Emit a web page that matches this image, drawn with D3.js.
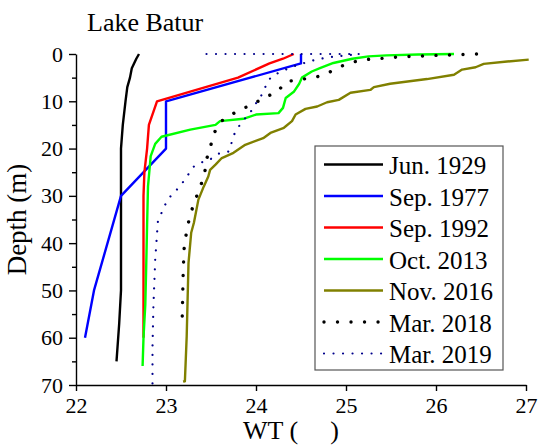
<!DOCTYPE html>
<html>
<head>
<meta charset="utf-8">
<script src="https://cdn.jsdelivr.net/npm/d3@7"></script>
<style>
  body { margin: 0; background: #fff; }
  svg { font-family: "Liberation Serif", "Times New Roman", serif; }
</style>
</head>
<body>
<svg id="chart" width="541" height="445"></svg>
<script>
// Water temperature profiles, [depth (m), WT]
let jun1929 = [[0, 22.70], [1, 22.67], [3, 22.62], [5, 22.60], [7, 22.57], [10, 22.55], [15, 22.52], [20, 22.50],
  [30, 22.50], [40, 22.50], [50, 22.50], [57, 22.48], [65, 22.45]];
let sep1977 = [[0, 24.5], [2, 24.5], [10, 23.0], [20, 23.0], [30, 22.5], [50, 22.2], [60, 22.1]];
let sep1992 = [[0, 24.42], [1, 24.3], [2, 24.15], [5, 23.8], [10, 22.9], [15, 22.81], [20, 22.79], [25, 22.76],
  [30, 22.75], [40, 22.75], [50, 22.75], [60, 22.75]];
let oct2013 = [[0, 26.2], [0.1, 25.8], [0.3, 25.45], [0.5, 25.25], [1, 25.07], [1.9, 24.86], [3, 24.71], [3.7, 24.62],
  [5, 24.51], [6.3, 24.48], [8, 24.42], [9.3, 24.33], [11.4, 24.3], [12.5, 24.25], [12.8, 24.0], [13.7, 23.86],
  [14.2, 23.6], [15, 23.55], [16, 23.27], [17.5, 22.95], [19, 22.88], [21.6, 22.83], [28, 22.8], [36, 22.79],
  [45, 22.78], [53, 22.77], [60, 22.75], [66, 22.74]];
let nov2016 = [[1.2, 27.03], [1.6, 26.79], [2.1, 26.53], [2.8, 26.44], [3.3, 26.29], [4.4, 26.2], [5.3, 25.9],
  [6.3, 25.49], [7.0, 25.31], [7.6, 25.27], [8.2, 25.05], [9.7, 24.92], [10.2, 24.79], [11.1, 24.68], [11.6, 24.55],
  [12.8, 24.44], [14.2, 24.4], [15.6, 24.31], [16.7, 24.16], [17.8, 24.08], [19.2, 23.88], [20.9, 23.75], [22, 23.62],
  [23.4, 23.55], [24.5, 23.49], [25.9, 23.47], [28, 23.42], [30.8, 23.36], [35.7, 23.31], [37.8, 23.28],
  [44.2, 23.25], [59.7, 23.23], [69.2, 23.21], [69.3, 23.19]];
let mar2018 = [[0, 26.45], [0.3, 26.0], [0.6, 25.6], [1.0, 25.35], [1.2, 25.19], [1.9, 25.04], [2.8, 24.92],
  [4.2, 24.78], [5.1, 24.63], [5.4, 24.47], [5.9, 24.33], [8.2, 24.23], [9.2, 24.08], [10.7, 23.97], [11.6, 23.84],
  [13, 23.71], [14.4, 23.6], [16.9, 23.53], [19.9, 23.49], [22.3, 23.45], [25.2, 23.43], [27.6, 23.39],
  [30.1, 23.34], [32.8, 23.29], [35.6, 23.25], [38.6, 23.22], [41.4, 23.2], [47, 23.19], [56, 23.18]];
let mar2019 = [[0, 23.45], [0, 25.15], [0.3, 25.0], [0.7, 24.8], [1.4, 24.62], [2, 24.52], [2.6, 24.42], [3.3, 24.33],
  [4.6, 24.18], [6.1, 24.12], [8.2, 24.08], [10, 24.01], [11.4, 23.98], [12.6, 23.92], [14.6, 23.84], [16, 23.78],
  [17.4, 23.75], [20.6, 23.7], [21.1, 23.58], [22.3, 23.49], [22.9, 23.4], [23.9, 23.3], [26.6, 23.21],
  [28.7, 23.12], [30.1, 23.05], [31.9, 22.99], [33.6, 22.95], [35.4, 22.91], [43.5, 22.88], [53.4, 22.86],
  [62, 22.85], [70, 22.85]];

let seriesLabels = ['Jun. 1929', 'Sep. 1977', 'Sep. 1992', 'Oct. 2013', 'Nov. 2016', 'Mar. 2018', 'Mar. 2019'];
let depthTicks = [0, 10, 20, 30, 40, 50, 60, 70];
let depthMinorTicks = [5, 15, 25, 35, 45, 55, 65];
let wtTicks = [22, 23, 24, 25, 26, 27];

// line styles per series
let styles = [
  {color: '#000000', width: 2.4, dash: null},
  {color: '#0000ff', width: 2.4, dash: null},
  {color: '#ff0000', width: 2.4, dash: null},
  {color: '#00ff00', width: 2.4, dash: null},
  {color: '#808000', width: 2.4, dash: null},
  {color: '#000000', width: 3.4, dash: '0.01 13.5'},
  {color: '#00008b', width: 2.2, dash: '0.01 9.5'}
];

let profiles = [jun1929, sep1977, sep1992, oct2013, nov2016, mar2018, mar2019];

let svg = d3.select('#chart');

let x = d3.scaleLinear().domain([22, 27]).range([76, 526]);
let y = d3.scaleLinear().domain([0, 70]).range([54, 385]);

let line = d3.line()
  .x((d) => x(d[1]))
  .y((d) => y(d[0]));

// Profiles
svg.append('g')
  .selectAll('path')
  .data(profiles)
  .enter().append('path')
  .attr('d', line)
  .attr('fill', 'none')
  .attr('stroke', (d, i) => styles[i].color)
  .attr('stroke-width', (d, i) => styles[i].width)
  .attr('stroke-dasharray', (d, i) => styles[i].dash)
  .attr('stroke-linecap', (d, i) => styles[i].dash ? 'round' : 'butt')
  .attr('stroke-linejoin', 'round');

// Left axis (depth), with minor ticks
svg.append('g')
  .attr('transform', 'translate(' + x(22) + ',0)')
  .call(d3.axisLeft(y).tickValues(depthTicks).tickSize(7).tickSizeOuter(0).tickPadding(6).tickFormat(d3.format('d')));
svg.append('g')
  .attr('transform', 'translate(' + x(22) + ',0)')
  .call(d3.axisLeft(y).tickValues(depthMinorTicks).tickSize(4).tickSizeOuter(0).tickFormat(''))
  .select('.domain').remove();

// Bottom axis (WT)
svg.append('g')
  .attr('transform', 'translate(0,' + y(70) + ')')
  .call(d3.axisBottom(x).tickValues(wtTicks).tickSize(6).tickSizeOuter(0).tickPadding(6).tickFormat(d3.format('d')));

svg.selectAll('.domain, .tick line')
  .attr('stroke', '#000')
  .attr('stroke-width', 1.4);
svg.selectAll('.tick text')
  .attr('font-family', '"Liberation Serif", "Times New Roman", serif')
  .attr('font-size', 22)
  .attr('fill', '#000');

// Title and axis labels
svg.append('text')
  .attr('x', 87)
  .attr('y', 31)
  .attr('font-size', 26)
  .text('Lake Batur');

svg.append('text')
  .attr('transform', 'translate(26,' + ((y(0) + y(70)) / 2) + ') rotate(-90)')
  .attr('text-anchor', 'middle')
  .attr('font-size', 27)
  .text('Depth (m)');

let xLabel = svg.append('text')
  .attr('x', 243)
  .attr('y', 439)
  .attr('font-size', 26);
xLabel.append('tspan').text('WT (');
xLabel.append('tspan').attr('dx', 32).text(')');

// Legend
let legend = svg.append('g');
legend.append('rect')
  .attr('x', 315)
  .attr('y', 146)
  .attr('width', 188)
  .attr('height', 224)
  .attr('fill', '#fff')
  .attr('stroke', '#555')
  .attr('stroke-width', 1.2);

let rows = legend.selectAll('.legend')
  .data(seriesLabels)
  .enter().append('g')
  .attr('class', 'legend')
  .attr('transform', (d, i) => 'translate(0,' + (164.5 + i * 31.5) + ')');

rows.append('line')
  .attr('x1', 324)
  .attr('x2', 383)
  .attr('stroke', (d, i) => styles[i].color)
  .attr('stroke-width', (d, i) => styles[i].width)
  .attr('stroke-dasharray', (d, i) => styles[i].dash)
  .attr('stroke-linecap', (d, i) => styles[i].dash ? 'round' : 'butt');

rows.append('text')
  .attr('x', 389)
  .attr('y', 9.5)
  .attr('font-size', 25)
  .text((d) => d);
</script>
</body>
</html>
